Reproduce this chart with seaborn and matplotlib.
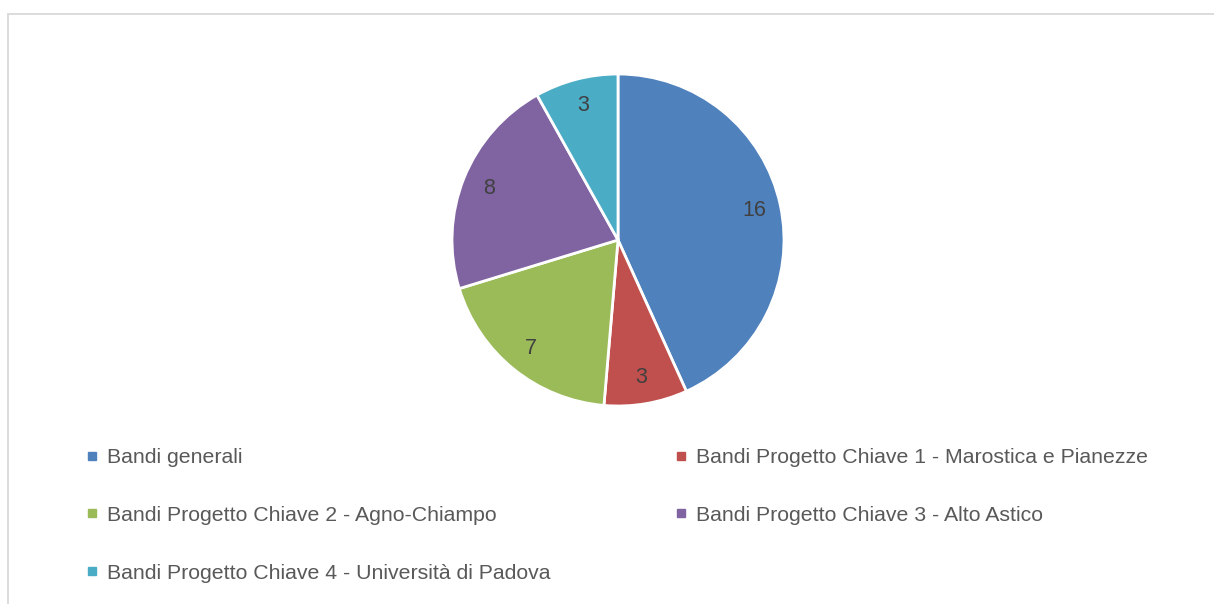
"""
Pie chart of calls (bandi) by project, Excel-style layout.
"""
import matplotlib
matplotlib.use("Agg")
import matplotlib.pyplot as plt
from matplotlib.lines import Line2D
from matplotlib.patches import Rectangle
import seaborn as sns

# Data
categories = [
    "Bandi generali",
    "Bandi Progetto Chiave 1 - Marostica e Pianezze",
    "Bandi Progetto Chiave 2 - Agno-Chiampo",
    "Bandi Progetto Chiave 3 - Alto Astico",
    "Bandi Progetto Chiave 4 - Università di Padova",
]
counts = [16, 3, 7, 8, 3]
colors = ["#4F81BD", "#C0504D", "#9BBB59", "#8064A2", "#4BACC6"]

sns.set_theme(style="white")
plt.rcParams["font.family"] = ["Liberation Sans", "DejaVu Sans"]

W, H = 1214, 604
fig = plt.figure(figsize=(W / 100, H / 100), dpi=100)
fig.patch.set_facecolor("white")

# Pie axes: centre (618, 240) px, radius 166 px
cx, cy, r = 618, 240, 166
ax = fig.add_axes([(cx - r) / W, (H - cy - r) / H, 2 * r / W, 2 * r / H])
total = sum(counts)
wedges, _, autotexts = ax.pie(
    counts,
    colors=colors,
    startangle=90,
    counterclock=False,
    autopct=lambda p: f"{round(p * total / 100):d}",
    pctdistance=0.84,
    wedgeprops=dict(edgecolor="white", linewidth=2),
    textprops=dict(color="#404040", fontsize=15.5),
)
ax.set_xlim(-1, 1)
ax.set_ylim(-1, 1)
ax.set_aspect("equal")
ax.axis("off")

# Chart area border (only top and left visible in the crop)
fig.add_artist(Rectangle((7.5 / W, -0.1), 1.2, 1 - 14.5 / H + 0.1,
                         transform=fig.transFigure, fill=False,
                         edgecolor="#d9d9d9", linewidth=1.3, clip_on=False))

# Legend in two columns, row-major order like Excel
def handle(c):
    return Line2D([], [], marker="s", linestyle="none", markersize=6,
                  markerfacecolor=c, markeredgecolor=c)

leg_kw = dict(frameon=False, fontsize=15.3, labelcolor="#595959",
              handlelength=0.55, handletextpad=0.45, labelspacing=1.83,
              borderpad=0, borderaxespad=0, loc="upper left")
left_idx = [0, 2, 4]
right_idx = [1, 3]
fig.legend([handle(colors[i]) for i in left_idx], [categories[i] for i in left_idx],
           bbox_to_anchor=(86 / W, 1 - 448 / H), **leg_kw)
fig.legend([handle(colors[i]) for i in right_idx], [categories[i] for i in right_idx],
           bbox_to_anchor=(675 / W, 1 - 448 / H), **leg_kw)

fig.savefig("out.png", dpi=100)
